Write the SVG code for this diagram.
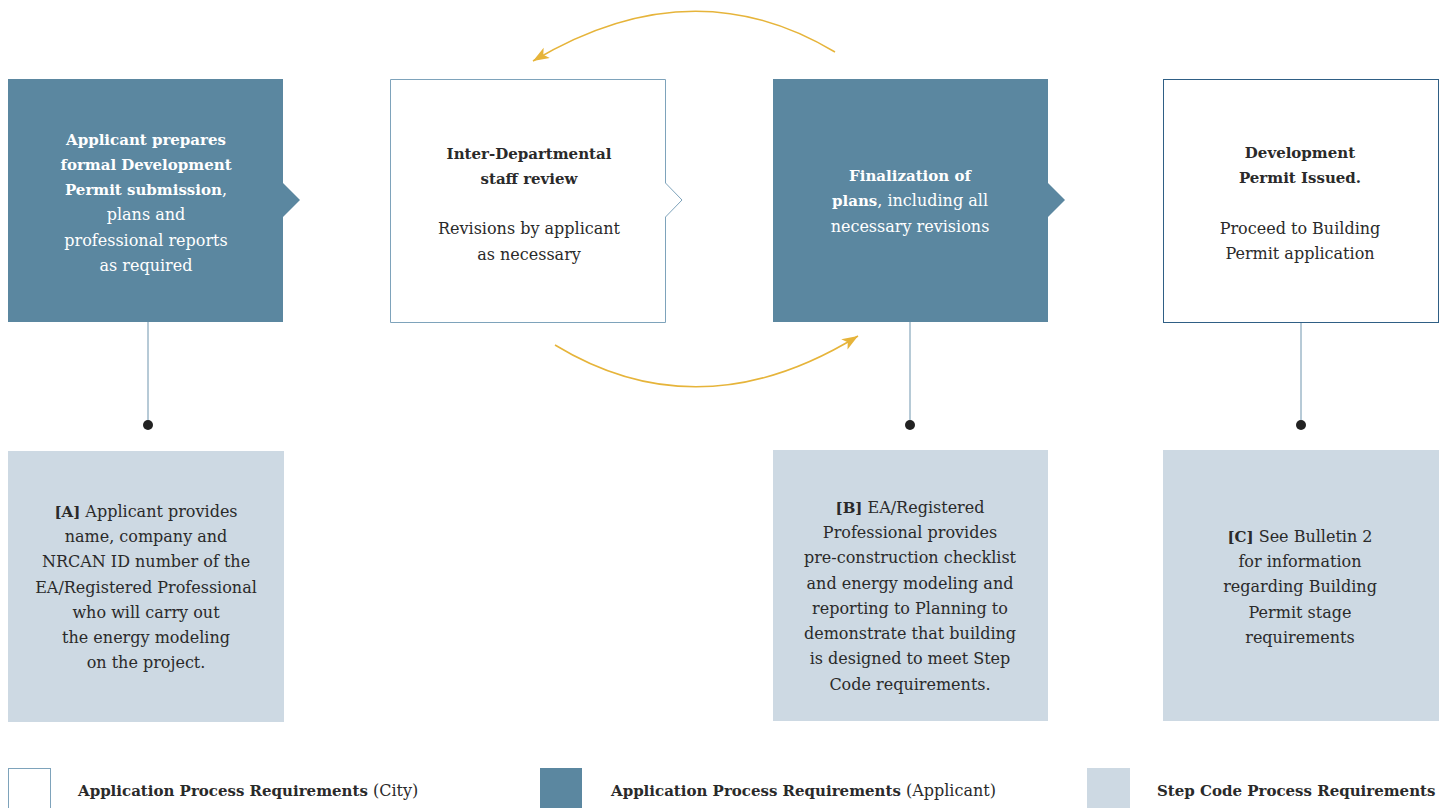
<svg xmlns="http://www.w3.org/2000/svg" width="1445" height="808" viewBox="0 0 1445 808">
<defs>
<style>
text{font-family:"DejaVu Serif","Liberation Serif",serif;font-size:16px;fill:#2a2a2a;text-anchor:middle}
.b{font-weight:bold;font-size:15px}
.w{fill:#ffffff}
.dark{fill:#5b87a0}
.light{fill:#cdd9e3}
.conn{stroke:#6f95ae;stroke-width:1;fill:none}
.dot{fill:#222222}
.curve{stroke:#e6b43a;stroke-width:1.5;fill:none}
.lg{text-anchor:start}
</style>
<marker id="ah" markerUnits="userSpaceOnUse" markerWidth="18" markerHeight="14" refX="16" refY="6" orient="auto">
<path d="M0,0 L16,6 L0,12 L4,6 Z" fill="#e6b43a"/>
</marker>
</defs>
<rect width="1445" height="808" fill="#ffffff"/>

<g id="connectors">
<line class="conn" x1="148" y1="322" x2="148" y2="425"/>
<circle class="dot" cx="148" cy="425" r="5"/>
<line class="conn" x1="910" y1="322" x2="910" y2="425"/>
<circle class="dot" cx="910" cy="425" r="5"/>
<line class="conn" x1="1301" y1="322" x2="1301" y2="425"/>
<circle class="dot" cx="1301" cy="425" r="5"/>
<path class="curve" d="M835,52 Q692,-34 533,61" marker-end="url(#ah)"/>
<path class="curve" d="M555,345 Q700,433 858,336" marker-end="url(#ah)"/>
</g>

<g id="node-1">
<path class="dark" d="M8,79 H283 V183 L300,200 L283,217 V322 H8 Z"/>
<text class="w" x="146"><tspan class="b w" x="146" y="145">Applicant prepares</tspan><tspan class="b w" x="146" y="170">formal Development</tspan><tspan x="146" y="195"><tspan class="b w">Permit submission</tspan>,</tspan><tspan x="146" y="220">plans and</tspan><tspan x="146" y="246">professional reports</tspan><tspan x="146" y="271">as required</tspan></text>
</g>

<g id="node-2">
<path d="M390.5,79.5 H665.5 V183 L682,200 L665.5,217 V322.5 H390.5 Z" fill="#ffffff" stroke="#7ea3bb" stroke-width="1"/>
<text><tspan class="b" x="529" y="159">Inter-Departmental</tspan><tspan class="b" x="529" y="184">staff review</tspan><tspan x="529" y="234">Revisions by applicant</tspan><tspan x="529" y="260">as necessary</tspan></text>
</g>

<g id="node-3">
<path class="dark" d="M773,79 H1048 V183 L1065,200 L1048,217 V322 H773 Z"/>
<text class="w"><tspan class="b w" x="910" y="181">Finalization of</tspan><tspan x="910" y="206"><tspan class="b w">plans</tspan>, including all</tspan><tspan x="910" y="232">necessary revisions</tspan></text>
</g>

<g id="node-4">
<rect x="1163.5" y="79.5" width="275" height="243" fill="#ffffff" stroke="#2f5f85" stroke-width="1"/>
<text><tspan class="b" x="1300" y="158">Development</tspan><tspan class="b" x="1300" y="183">Permit Issued.</tspan><tspan x="1300" y="234">Proceed to Building</tspan><tspan x="1300" y="259">Permit application</tspan></text>
</g>

<g id="node-A">
<rect class="light" x="8" y="451" width="276" height="271"/>
<text><tspan x="146" y="517"><tspan class="b">[A]</tspan> Applicant provides</tspan><tspan x="146" y="542">name, company and</tspan><tspan x="146" y="567">NRCAN ID number of the</tspan><tspan x="146" y="593">EA/Registered Professional</tspan><tspan x="146" y="618">who will carry out</tspan><tspan x="146" y="643">the energy modeling</tspan><tspan x="146" y="668">on the project.</tspan></text>
</g>

<g id="node-B">
<rect class="light" x="773" y="450" width="275" height="271"/>
<text><tspan x="910" y="513"><tspan class="b">[B]</tspan> EA/Registered</tspan><tspan x="910" y="538">Professional provides</tspan><tspan x="910" y="563">pre-construction checklist</tspan><tspan x="910" y="589">and energy modeling and</tspan><tspan x="910" y="614">reporting to Planning to</tspan><tspan x="910" y="639">demonstrate that building</tspan><tspan x="910" y="664">is designed to meet Step</tspan><tspan x="910" y="690">Code requirements.</tspan></text>
</g>

<g id="node-C">
<rect class="light" x="1163" y="450" width="276" height="271"/>
<text><tspan x="1300" y="542"><tspan class="b">[C]</tspan> See Bulletin 2</tspan><tspan x="1300" y="567">for information</tspan><tspan x="1300" y="592">regarding Building</tspan><tspan x="1300" y="618">Permit stage</tspan><tspan x="1300" y="643">requirements</tspan></text>
</g>

<g id="legend">
<rect x="8.5" y="768.5" width="42" height="45" fill="#ffffff" stroke="#7ea3bb" stroke-width="1"/>
<text class="lg" x="78" y="796"><tspan class="b">Application Process Requirements</tspan> (City)</text>
<rect class="dark" x="540" y="768" width="42" height="45"/>
<text class="lg" x="611" y="796"><tspan class="b">Application Process Requirements</tspan> (Applicant)</text>
<rect class="light" x="1087" y="768" width="43" height="45"/>
<text class="lg" x="1157" y="796"><tspan class="b">Step Code Process Requirements</tspan></text>
</g>
</svg>
